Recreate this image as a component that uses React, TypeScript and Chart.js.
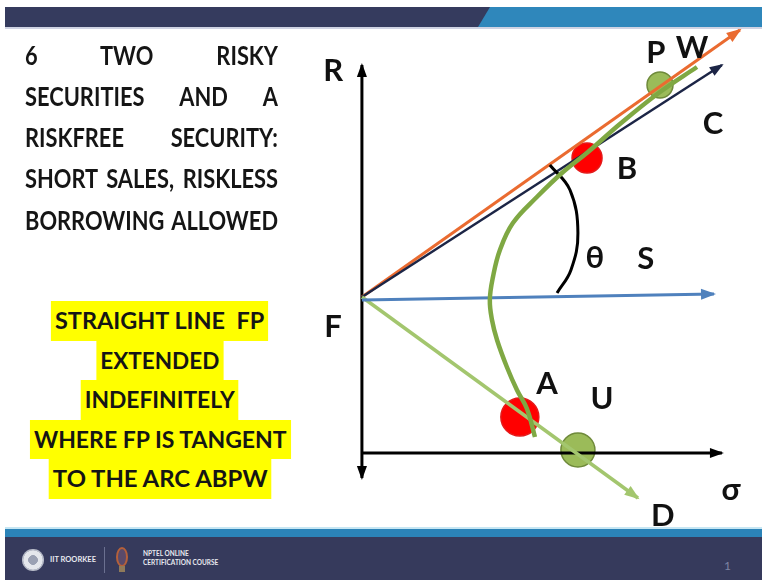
import React, { useEffect, useRef } from "react";
import { Chart, registerables } from "chart.js";

Chart.register(...registerables);

// ---- Diagram data: σ (risk) on x, R (return) on y ----
// Scale window so the origin of the R–σ axes sits inside the slide
const X_MIN = -15.08;
const X_MAX = 16.67;
const Y_MIN = -5.08;
const Y_MAX = 18.12;

// Efficient frontier of the two risky securities (arc A–B–P–W)
const FRONTIER_SIGMA = [13.96, 12.42, 10.75, 9.42, 8.38, 7.29, 6.29, 5.75, 5.46, 5.33, 5.42, 5.63, 6.04, 6.46, 6.88, 7.21];
const FRONTIER_R = [15.44, 14.44, 13.16, 12.04, 11.24, 10.24, 9.2, 8.12, 7.04, 6.12, 5.32, 4.52, 3.44, 2.52, 1.76, 0.64];

// Risk-free rate F
const RISK_FREE = 6.24;

// Rays out of F: end points [σ, R]
const RAY_W = [15.75, 16.92];
const RAY_C = [15.0, 15.52];
const RAY_S_START = [0, 6.12];
const RAY_S_END = [14.67, 6.36];
const RAY_D = [11.5, -1.8];

// Axes
const R_AXIS = [-1.0, 15.52];
const SIGMA_AXIS_END = 15.0;

// Angle θ between the rays FS and FC
const THETA_SIGMA = [7.83, 8.67, 9.0, 8.71, 8.13];
const THETA_R = [11.52, 10.52, 8.8, 7.32, 6.4];

// Portfolios marked on the diagram
const PORTFOLIO_NAMES = ["P", "B", "A", "U"];
const PORTFOLIO_SIGMA = [12.42, 9.38, 6.58, 9.0];
const PORTFOLIO_R = [14.72, 11.8, 1.44, 0.12];

// ---- Slide text ----
const TITLE_LINES = [
  "6 TWO RISKY",
  "SECURITIES AND A",
  "RISKFREE SECURITY:",
  "SHORT SALES, RISKLESS",
  "BORROWING ALLOWED",
];
const NOTE_LINES = [
  "STRAIGHT LINE  FP",
  "EXTENDED",
  "INDEFINITELY",
  "WHERE FP IS TANGENT",
  "TO THE ARC ABPW",
];
const NOTE_WIDTHS = [210, 119, 150, 254, 217];

// Label anchors (σ, R) for the diagram letters
const LABELS: { text: string; x: number; y: number }[] = [
  { text: "R", x: -1.2, y: 15.32 },
  { text: "F", x: -1.2, y: 5.08 },
  { text: "σ", x: 15.38, y: -1.44 },
  { text: "D", x: 12.54, y: -2.48 },
  { text: "U", x: 10.0, y: 2.2 },
  { text: "A", x: 7.71, y: 2.8 },
  { text: "θ", x: 9.71, y: 7.84 },
  { text: "S", x: 11.83, y: 7.8 },
  { text: "B", x: 11.04, y: 11.4 },
  { text: "C", x: 14.63, y: 13.2 },
  { text: "P", x: 12.25, y: 16.04 },
  { text: "W", x: 13.75, y: 16.24 },
];

const LABEL_FONT_SIZE = 31;
const FONT_STACK = "Lato, 'DejaVu Sans', sans-serif";

const pts = (xs: number[], ys: number[]) => xs.map((x, i) => ({ x, y: ys[i] }));

function ray(label: string, from: number[], to: number[], color: string, width: number, extra: any = {}) {
  return {
    label,
    data: [
      { x: from[0], y: from[1] },
      { x: to[0], y: to[1] },
    ],
    showLine: true,
    borderColor: color,
    backgroundColor: color,
    borderWidth: width,
    pointRadius: 0,
    tension: 0,
    order: 2,
    arrowEnd: true,
    ...extra,
  };
}

function drawHead(ctx: CanvasRenderingContext2D, from: any, to: any, color: string, size: number) {
  const a = Math.atan2(to.y - from.y, to.x - from.x);
  ctx.save();
  ctx.translate(to.x, to.y);
  ctx.rotate(a);
  ctx.beginPath();
  ctx.moveTo(2, 0);
  ctx.lineTo(-size, -size * 0.42);
  ctx.lineTo(-size, size * 0.42);
  ctx.closePath();
  ctx.fillStyle = color;
  ctx.fill();
  ctx.restore();
}

const diagramMarks = {
  id: "diagramMarks",
  afterDatasetsDraw(chart: any) {
    const ctx: CanvasRenderingContext2D = chart.ctx;
    chart.data.datasets.forEach((ds: any, i: number) => {
      const els = chart.getDatasetMeta(i).data;
      if (!els || els.length < 2) return;
      const size = ds.arrowSize || 13;
      if (ds.arrowEnd) drawHead(ctx, els[els.length - 2], els[els.length - 1], ds.borderColor, size);
      if (ds.arrowStart) drawHead(ctx, els[1], els[0], ds.borderColor, size);
    });
    const sx = chart.scales.x;
    const sy = chart.scales.y;
    ctx.save();
    ctx.fillStyle = "#111111";
    ctx.font = `bold ${LABEL_FONT_SIZE}px ${FONT_STACK}`;
    ctx.textAlign = "center";
    ctx.textBaseline = "alphabetic";
    for (const l of LABELS) {
      const px = sx.getPixelForValue(l.x);
      const py = sy.getPixelForValue(l.y) + LABEL_FONT_SIZE * 0.36;
      ctx.fillText(l.text, px, py);
    }
    ctx.restore();
  },
};

function measure(text: string, font: string) {
  const c = document.createElement("canvas").getContext("2d")!;
  c.font = font;
  return c.measureText(text).width;
}

function Diagram() {
  const ref = useRef<HTMLCanvasElement>(null);
  useEffect(() => {
    const circleColors: Record<string, [string, string, number]> = {
      P: ["#9bbb59", "#6f8a3b", 13],
      B: ["#ff0000", "#e41a1a", 15],
      A: ["#ff0000", "#e41a1a", 19],
      U: ["#9bbb59", "#6f8a3b", 17],
    };
    const circles = PORTFOLIO_NAMES.map((name, i) => ({
      label: name,
      data: [{ x: PORTFOLIO_SIGMA[i], y: PORTFOLIO_R[i] }],
      showLine: false,
      pointRadius: circleColors[name][2],
      pointBackgroundColor: circleColors[name][0],
      pointBorderColor: circleColors[name][1],
      pointBorderWidth: 1.5,
      order: 10,
    }));

    const datasets: any[] = [
      // axes
      {
        label: "R axis",
        data: [
          { x: 0, y: R_AXIS[0] },
          { x: 0, y: R_AXIS[1] },
        ],
        showLine: true,
        borderColor: "#000000",
        borderWidth: 3,
        pointRadius: 0,
        order: 3,
        arrowEnd: true,
        arrowStart: true,
        arrowSize: 12,
      },
      {
        label: "σ axis",
        data: [
          { x: 0, y: 0 },
          { x: SIGMA_AXIS_END, y: 0 },
        ],
        showLine: true,
        borderColor: "#000000",
        borderWidth: 3,
        pointRadius: 0,
        order: 3,
        arrowEnd: true,
        arrowSize: 12,
      },
      ray("FS", RAY_S_START, RAY_S_END, "#4f81bd", 3),
      ray("FD", [0, RISK_FREE], RAY_D, "#a3c66e", 3.5),
      ray("FC", [0, RISK_FREE], RAY_C, "#1c2546", 2.5, { arrowSize: 12 }),
      ray("FW", [0, RISK_FREE], RAY_W, "#ea6b30", 3),
      {
        label: "frontier",
        data: pts(FRONTIER_SIGMA, FRONTIER_R),
        showLine: true,
        borderColor: "#7fa843",
        borderWidth: 4.5,
        pointRadius: 0,
        tension: 0.4,
        order: 1,
      },
      {
        label: "θ",
        data: pts(THETA_SIGMA, THETA_R),
        showLine: true,
        borderColor: "#000000",
        borderWidth: 3,
        pointRadius: 0,
        tension: 0.4,
        order: 1,
      },
      ...circles,
    ];

    const chart = new Chart(ref.current!, {
      type: "scatter",
      data: { datasets },
      options: {
        animation: false,
        responsive: false,
        maintainAspectRatio: false,
        devicePixelRatio: 1,
        events: [],
        layout: { padding: 0, autoPadding: false },
        plugins: { legend: { display: false }, tooltip: { enabled: false } },
        scales: {
          x: { type: "linear", min: X_MIN, max: X_MAX, display: false },
          y: { type: "linear", min: Y_MIN, max: Y_MAX, display: false },
        },
      },
      plugins: [diagramMarks],
    } as any);
    return () => chart.destroy();
  }, []);
  return (
    <canvas
      ref={ref}
      width={762}
      height={580}
      style={{ position: "absolute", left: 0, top: 0, width: 762, height: 580 }}
    />
  );
}

function Title() {
  const font = `700 27px ${FONT_STACK}`;
  const natural = Math.max(...TITLE_LINES.map((t) => measure(t, font))) + 2;
  const k = 253 / natural;
  return (
    <>
      {TITLE_LINES.map((t, i) => (
        <div
          key={t}
          style={{
            position: "absolute",
            left: 25,
            top: 33.5 + i * 41.25,
            width: natural,
            height: 41.25,
            lineHeight: "41.25px",
            fontFamily: FONT_STACK,
            fontWeight: 700,
            fontSize: 27,
            color: "#151515",
            textAlign: "justify",
            textAlignLast: "justify",
            transform: `scaleX(${k})`,
            transformOrigin: "left top",
          }}
        >
          {t}
        </div>
      ))}
    </>
  );
}

function Note() {
  const font = `700 23px ${FONT_STACK}`;
  return (
    <>
      {NOTE_LINES.map((t, i) => {
        const k = NOTE_WIDTHS[i] / measure(t, font);
        return (
          <div
            key={t}
            style={{
              position: "absolute",
              left: 0,
              width: 320,
              top: 301 + i * 39.5,
              height: 39.5,
              textAlign: "center",
            }}
          >
            <span
              style={{
                display: "inline-block",
                whiteSpace: "pre",
                background: "#ffff00",
                padding: "0 4px",
                height: 39.5,
                lineHeight: "39.5px",
                fontFamily: FONT_STACK,
                fontWeight: 700,
                fontSize: 23,
                color: "#151515",
                transform: `scaleX(${k})`,
                transformOrigin: "center top",
              }}
            >
              {t}
            </span>
          </div>
        );
      })}
    </>
  );
}

function Footer() {
  return (
    <>
      <div style={{ position: "absolute", left: 5, top: 527, width: 757, height: 2, background: "#c6e6f3" }} />
      <div style={{ position: "absolute", left: 5, top: 529, width: 757, height: 8, background: "#2b83b8" }} />
      <div style={{ position: "absolute", left: 5, top: 537, width: 757, height: 43, background: "#363a5c" }} />
      {/* institute emblem */}
      <div
        style={{
          position: "absolute",
          left: 22,
          top: 549,
          width: 22,
          height: 22,
          borderRadius: "50%",
          background: "radial-gradient(circle, #9aa0b3 0 30%, #e4e6ec 32% 60%, #b9bdca 62% 70%, #eef0f4 72%)",
        }}
      />
      <div
        style={{
          position: "absolute",
          left: 50,
          top: 555,
          fontFamily: FONT_STACK,
          fontWeight: 700,
          fontSize: 7.5,
          color: "#e8e9ef",
          whiteSpace: "nowrap",
        }}
      >
        IIT ROORKEE
      </div>
      <div style={{ position: "absolute", left: 104, top: 547, width: 1, height: 26, background: "#6b7090" }} />
      {/* course logo */}
      <div
        style={{
          position: "absolute",
          left: 116,
          top: 547,
          width: 12,
          height: 20,
          borderRadius: "50%",
          border: "2px solid #b5603a",
          boxSizing: "border-box",
          background: "#5a4a6a",
        }}
      />
      <div style={{ position: "absolute", left: 119, top: 566, width: 6, height: 6, background: "#8f7a5a" }} />
      <div
        style={{
          position: "absolute",
          left: 143,
          top: 549,
          fontFamily: FONT_STACK,
          fontWeight: 700,
          fontSize: 6.5,
          lineHeight: "9px",
          color: "#e8e9ef",
          whiteSpace: "nowrap",
        }}
      >
        NPTEL ONLINE
        <br />
        CERTIFICATION COURSE
      </div>
      <div
        style={{
          position: "absolute",
          left: 724,
          top: 558,
          fontFamily: FONT_STACK,
          fontSize: 12,
          color: "#7d84a3",
        }}
      >
        1
      </div>
    </>
  );
}

function HeaderBar() {
  return (
    <>
      <div
        style={{
          position: "absolute",
          left: 5,
          top: 7,
          width: 757,
          height: 20,
          background: "#353b5e",
        }}
      />
      <div
        style={{
          position: "absolute",
          left: 478,
          top: 7,
          width: 284,
          height: 20,
          background: "#2f87bb",
          clipPath: "polygon(12px 0, 100% 0, 100% 100%, 0 100%)",
        }}
      />
      <div style={{ position: "absolute", left: 5, top: 27, width: 757, height: 2, background: "#cfd3e3" }} />
    </>
  );
}

export default function App() {
  return (
    <div
      style={{
        position: "fixed",
        left: 0,
        top: 0,
        width: 762,
        height: 580,
        background: "#ffffff",
        overflow: "hidden",
      }}
    >
      <HeaderBar />
      <Footer />
      <Diagram />
      <Title />
      <Note />
    </div>
  );
}
